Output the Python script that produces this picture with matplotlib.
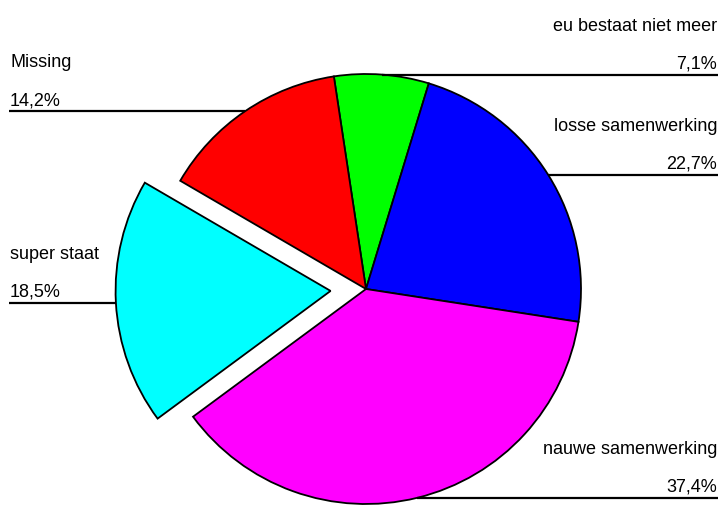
import numpy as np
import matplotlib.pyplot as plt

labels = ["eu bestaat niet meer", "losse samenwerking", "nauwe samenwerking",
          "super staat", "Missing"]
percent = [7.1, 22.7, 37.4, 18.5, 14.2]
colors = ["#00ff00", "#0000ff", "#ff00ff", "#00ffff", "#ff0000"]
explode = [0, 0, 0, 0.165, 0]

W, H = 723, 505
R = 215
fig = plt.figure(figsize=(W / 100, H / 100), dpi=100)
ax = fig.add_axes([0, 0, 1, 1])

# explode in matplotlib is an absolute offset, so scale by the radius
wedges, _ = ax.pie(percent, colors=colors, explode=[e * R for e in explode],
                   startangle=98.6, counterclock=False, center=(366, 216),
                   radius=R, frame=True,
                   wedgeprops=dict(edgecolor="black", linewidth=1.3))

ax.set_xlim(0, W)
ax.set_ylim(0, H)
ax.set_aspect("equal")
ax.axis("off")

fnt = dict(fontsize=13, family="Liberation Sans", va="baseline")

# labels: name + percentage above a horizontal leader line from the slice edge
for w, lab, p in zip(wedges, labels, percent):
    mid = np.deg2rad((w.theta1 + w.theta2) / 2)
    cx, cy = w.center
    px = cx + w.r * np.cos(mid)
    py = cy + w.r * np.sin(mid)
    pct = f"{p:.1f}%".replace(".", ",")
    if np.cos(mid) >= 0:
        ax.plot([px, 718], [py, py], color="black", lw=1.6, solid_capstyle="butt")
        ax.text(717, py + 6, pct, ha="right", **fnt)
        ax.text(717, py + 44, lab, ha="right", **fnt)
    else:
        ax.plot([9, px], [py, py], color="black", lw=1.6, solid_capstyle="butt")
        ax.text(10, py + 6, pct, ha="left", **fnt)
        ax.text(10, py + 44, lab, ha="left", **fnt)

fig.savefig("out.png", dpi=100)
